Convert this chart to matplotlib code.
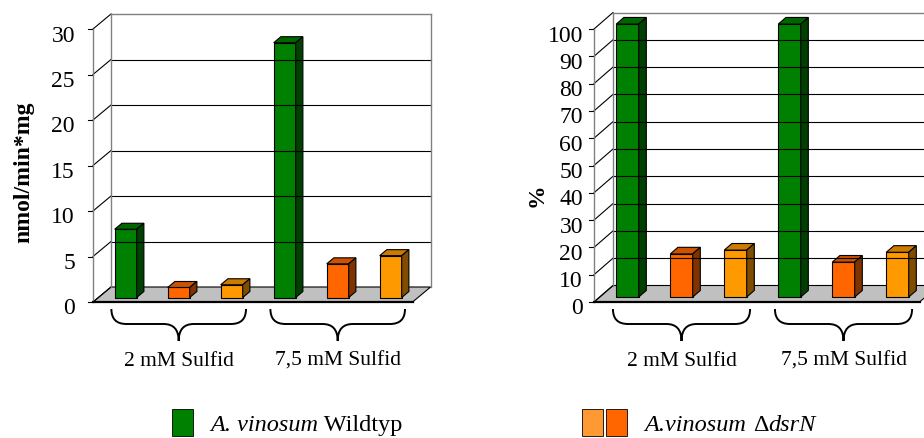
import matplotlib
matplotlib.use("Agg")
import matplotlib.pyplot as plt
import matplotlib.transforms as mtransforms
from matplotlib.path import Path
from matplotlib.patches import PathPatch, Polygon, Rectangle

plt.rcParams['font.family'] = 'Liberation Serif'

# Daten
groups = ['2 mM Sulfid', '7,5 mM Sulfid']
rate_wt = [7.5, 28.0]
rate_dsrn_1 = [1.1, 3.7]
rate_dsrn_2 = [1.4, 4.6]
pct_wt = [100, 100]
pct_dsrn_1 = [15.8, 12.8]
pct_dsrn_2 = [17.2, 16.4]
rate_ticks = [0, 5, 10, 15, 20, 25, 30]
pct_ticks = [0, 10, 20, 30, 40, 50, 60, 70, 80, 90, 100]

# Farben: Vorderseite, Oberseite, Seite
col_wt = ('#008000', '#006600', '#004000')
col_d1 = ('#FF6600', '#CC5200', '#803300')
col_d2 = ('#FF9900', '#CC7A00', '#804C00')

W, H = 924, 439
fig = plt.figure(figsize=(W / 100, H / 100), dpi=100)

X0, X1 = -0.515, 5.515   # Boden in Kategorie-Einheiten
BW = 0.415               # Balkenbreite
D0, D1 = 0.3, 0.7        # Balkentiefe (Anteil)


def brace(ax, xl, xr, r):
    tr = mtransforms.blended_transform_factory(ax.transData, fig.dpi_scale_trans)
    yt, yh, ytip = (H - 310) / 100, (H - 325) / 100, (H - 342) / 100
    xc = (xl + xr) / 2
    verts = [(xl, yt), (xl, yh), (xl + r, yh), (xc - r, yh), (xc, yh), (xc, ytip),
             (xc, yh), (xc + r, yh), (xr - r, yh), (xr, yh), (xr, yt)]
    codes = [Path.MOVETO, Path.CURVE3, Path.CURVE3, Path.LINETO, Path.CURVE3, Path.CURVE3,
             Path.CURVE3, Path.CURVE3, Path.LINETO, Path.CURVE3, Path.CURVE3]
    ax.add_patch(PathPatch(Path(verts, codes), fc='none', ec='black', lw=1.4,
                           transform=tr, clip_on=False))
    return tr, xc


def draw_panel(wt, d1, d2, ticks, wall_x, ux, uy, ddx, ddy, label_gap):
    vmax = ticks[-1]
    wpx = (X1 - X0) * ux + ddx
    hpx = vmax * uy + ddy
    ax = fig.add_axes([wall_x / W, (H - 303) / H, wpx / W, hpx / H])
    ax.set_xlim(X0, X1 + ddx / ux)
    ax.set_ylim(0, vmax + ddy / uy)
    ax.set_axis_off()
    DX, DY = ddx / ux, ddy / uy

    # Rueckwand und Seitenwand
    for v in ticks:
        if 0 < v < vmax:
            ax.plot([X0 + DX, X1 + DX], [v + DY, v + DY], color='black', lw=0.8, clip_on=False)
        ax.plot([X0, X0 + DX], [v, v + DY], color='black', lw=0.8, clip_on=False)
        ax.plot([X0 - 5 / ux, X0], [v, v], color='black', lw=0.8, clip_on=False)
        off = mtransforms.ScaledTranslation(-label_gap / 100, -11.5 / 100, fig.dpi_scale_trans)
        ax.text(X0, v, str(v), ha='right', va='baseline', fontsize=17,
                transform=ax.transData + off)
    ax.plot([X0 + DX, X1 + DX], [vmax + DY, vmax + DY], color='#808080', lw=1.0, clip_on=False)
    ax.plot([X0, X0], [0, vmax], color='#808080', lw=1.0, clip_on=False)
    ax.plot([X0 + DX, X0 + DX], [DY, vmax + DY], color='#808080', lw=1.0, clip_on=False)
    ax.plot([X1 + DX, X1 + DX], [DY, vmax + DY], color='#808080', lw=1.0, clip_on=False)

    # Boden
    ax.add_patch(Polygon([(X0, 0), (X1, 0), (X1 + DX, DY), (X0 + DX, DY)],
                         fc='#C0C0C0', ec='black', lw=0.8, clip_on=False))
    ax.plot([X0, X1], [0, 0], color='black', lw=1.6, clip_on=False)

    # Balken
    vals = []
    cols = []
    for g in range(len(groups)):
        vals += [wt[g], d1[g], d2[g]]
        cols += [col_wt, col_d1, col_d2]
    dd = D1 - D0
    for i, (v, c) in enumerate(zip(vals, cols)):
        xl = i - BW / 2 + D0 * DX
        xr = xl + BW
        yb = D0 * DY
        ax.bar(xl, v, width=BW, bottom=yb, align='edge', color=c[0],
               edgecolor='black', lw=0.8, clip_on=False)
        ax.add_patch(Polygon([(xl, yb + v), (xr, yb + v), (xr + dd * DX, yb + v + dd * DY),
                              (xl + dd * DX, yb + v + dd * DY)],
                             fc=c[1], ec='black', lw=0.8, clip_on=False))
        ax.add_patch(Polygon([(xr, yb), (xr + dd * DX, yb + dd * DY),
                              (xr + dd * DX, yb + v + dd * DY), (xr, yb + v)],
                             fc=c[2], ec='black', lw=0.8, clip_on=False))

    # Klammern und Gruppenbeschriftung
    for g, name in enumerate(groups):
        xc = 3 * g + 1 + D0 * DX
        tr, xc = brace(ax, xc - 1.27, xc + 1.27, 15 / ux)
        ax.text(xc, (H - 366) / 100, name, ha='center', va='baseline',
                fontsize=15.5, transform=tr)
    return ax


def rich_text(x_px, y_px, pieces, size=17.5):
    # Textstuecke nebeneinander (kursiv / normal)
    renderer = fig.canvas.get_renderer()
    x = x_px
    for s, style, gap in pieces:
        t = fig.text((x + gap) / W, 1 - y_px / H, s, ha='left', va='baseline', fontsize=size,
                     fontstyle=style)
        x += gap + t.get_window_extent(renderer).width


draw_panel(rate_wt, rate_dsrn_1, rate_dsrn_2, rate_ticks, 93, 53, 9.1, 18, 15, 18)
draw_panel(pct_wt, pct_dsrn_1, pct_dsrn_2, pct_ticks, 594, 54, 2.73, 19, 16.5, 11)

fig.text(24 / W, 1 - 172 / H, 'nmol/min*mg', rotation=90, ha='center', va='center',
         fontsize=17, fontweight='bold')
fig.text(537 / W, 1 - 195 / H, '%', rotation=90, ha='center', va='center',
         fontsize=17, fontweight='bold')

# Legende
for x0, c in [(172, col_wt[0]), (582, '#FF9933'), (606, col_d1[0])]:
    fig.patches.append(Rectangle((x0 / W, 1 - 437 / H), 21 / W, 27 / H, fc=c, ec='black',
                                 lw=0.6, transform=fig.transFigure, figure=fig))
rich_text(210, 431, [('A. vinosum', 'italic', 0), (' Wildtyp', 'normal', 0)])
rich_text(644, 431, [('A.vinosum', 'italic', 0), ('Δ', 'normal', 7), ('dsrN', 'italic', 0)])

fig.savefig('out.png', dpi=100)
